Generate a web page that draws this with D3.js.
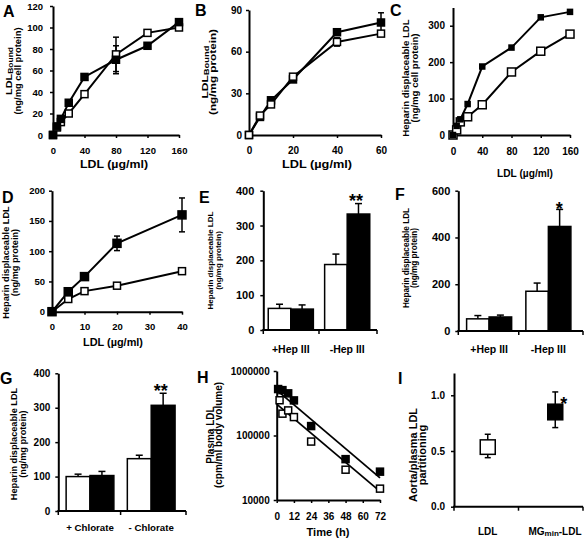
<!DOCTYPE html>
<html><head><meta charset="utf-8">
<script src="https://cdn.jsdelivr.net/npm/d3@7"></script>
<style>
body{margin:0;background:#fff}
text{font-family:Arial,"Liberation Sans",sans-serif;font-weight:bold;fill:#000}
</style>
</head><body>
<svg id="c" width="588" height="539"></svg>
<script>
// ---------- DATA ----------
const A_x = [0,5,10,20,40,80,120,160];
const A_filled = [0,8,15,30,54,70,83,105];
const A_filledErr = [0,0,0,0,0,13,0,0];
const A_open = [0,7,12,20,38,75,95,100];
const A_openErr = [0,0,0,0,0,16,0,0];
const A_xTicks = [0,40,80,120,160];
const A_yTicks = [0,20,40,60,80,100,120];

const B_x = [0,5,10,20,40,60];
const B_filled = [0,13,25,40,74,81];
const B_filledErr = [0,0,0,0,2,7];
const B_open = [0,14,22,42,67,73];
const B_openErr = [0,0,0,0,3,0];
const B_xTicks = [0,20,40,60];
const B_yTicks = [0,30,60,90];

const C_x = [0,5,10,20,40,80,120,160];
const C_filled = [0,25,43,85,188,240,323,338];
const C_open = [0,14,36,50,83,173,230,277];
const C_xTicks = [0,40,80,120,160];
const C_yTicks = [0,100,200,300];

const D_x = [0,5,10,20,40];
const D_filled = [0,33,58,113,160];
const D_filledErr = [0,0,0,12,28];
const D_open = [0,21,34,43,67];
const D_xTicks = [0,10,20,30,40];
const D_yTicks = [0,50,100,150,200];

const E_cats = ["+Hep III","-Hep III"];
const E_open = [62,188];
const E_openErr = [12,30];
const E_filled = [60,333];
const E_filledErr = [12,30];
const E_yTicks = [0,100,200,300,400];

const F_cats = ["+Hep III","-Hep III"];
const F_open = [52,170];
const F_openErr = [14,35];
const F_filled = [60,447];
const F_filledErr = [8,73];
const F_yTicks = [0,200,400,600];

const G_cats = ["+ Chlorate","- Chlorate"];
const G_open = [100,152];
const G_openErr = [7,10];
const G_filled = [103,307];
const G_filledErr = [12,35];
const G_yTicks = [0,100,200,300,400];

const H_tFilled = [1,4,8,12,24,48,72];
const H_filled = [525000,505000,450000,350000,140000,43000,27500];
const H_tOpen = [2,4,8,12,24,48,72];
const H_open = [352000,218000,245000,193000,80500,29500,15000];
const H_fitT = [0,72];
const H_fitFilled = [505000,22000];
const H_fitOpen = [306000,13600];
const H_xTicks = [0,12,24,36,48,60,72];
const H_yTicks = [10000,100000,1000000];

const I_cats = ["LDL","MGmin-LDL"];
const I_low = [0.44,0.71];
const I_q1 = [0.47,0.78];
const I_q3 = [0.60,0.92];
const I_high = [0.65,1.03];
const I_yTicks = [0,0.5,1.0];

// ---------- HELPERS ----------
const svg = d3.select("#c");

function styleAxis(g, fs){
  g.select(".domain").attr("stroke","#000").attr("stroke-width",2);
  g.selectAll(".tick line").attr("stroke","#000").attr("stroke-width",1.5);
  g.selectAll(".tick text").attr("font-size",fs||9.5).attr("font-weight","bold")
    .attr("font-family","Arial, 'Liberation Sans', sans-serif").attr("fill","#000");
}

function letter(t,x,y){
  svg.append("text").attr("x",x).attr("y",y).attr("font-size",16).text(t);
}

function star(s,x,baseline){
  svg.append("text").attr("x",x).attr("y",baseline).attr("text-anchor","middle")
    .attr("font-size",18).text(s);
}

function ytitle(lines, xs, cy, fs, lens){
  lines.forEach((segs,i)=>{
    const t = svg.append("text")
      .attr("transform",`translate(${xs[i]},${cy}) rotate(-90)`)
      .attr("text-anchor","middle").attr("dominant-baseline","central")
      .attr("font-size",fs);
    if(lens && lens[i]) t.attr("textLength",lens[i]).attr("lengthAdjust","spacingAndGlyphs");
    if(typeof segs === "string"){ t.text(segs); return; }
    segs.forEach(s=>{
      const ts = t.append("tspan").text(s.t);
      if(s.sub){ ts.attr("font-size",fs*0.78).attr("dy",2); }
    });
  });
}

function xtitle(s,x,y,len){
  const t = svg.append("text").attr("x",x).attr("y",y).attr("text-anchor","middle")
    .attr("dominant-baseline","central").attr("font-size",10.5).text(s);
  if(len) t.attr("textLength",len).attr("lengthAdjust","spacingAndGlyphs");
}

function linePanel(o){
  const x = d3.scaleLinear().domain(o.xDom).range(o.xR);
  const y = (o.log ? d3.scaleLog() : d3.scaleLinear()).domain(o.yDom).range(o.yR);
  const g = svg.append("g");
  const xa = g.append("g").attr("transform",`translate(0,${o.yR[0]})`)
    .call(d3.axisBottom(x).tickValues(o.xTicks).tickSize(3).tickSizeOuter(0).tickPadding(o.xPad||9)
      .tickFormat(d3.format("d")));
  styleAxis(xa, o.fs);
  const ya = g.append("g").attr("transform",`translate(${o.xR[0]},0)`)
    .call(d3.axisLeft(y).tickValues(o.yTicks).tickSize(3).tickSizeOuter(0).tickPadding(o.yPad||5)
      .tickFormat(o.yFmt || d3.format("d")));
  styleAxis(ya, o.fs);
  (o.fits||[]).forEach(f=>{
    const pts = f.xs.map((v,i)=>[x(v),y(f.ys[i])]);
    g.append("path").attr("d",d3.line()(pts)).attr("fill","none").attr("stroke","#000").attr("stroke-width",1.8);
  });
  o.series.forEach(s=>{
    if(s.connect!==false){
      const pts = s.xs.map((v,i)=>[x(v),y(s.ys[i])]);
      g.append("path").attr("d",d3.line()(pts)).attr("fill","none").attr("stroke","#000").attr("stroke-width",2);
    }
  });
  o.series.forEach(s=>{
    (s.errs||[]).forEach((e,i)=>{
      if(!e) return;
      const cx = x(s.xs[i]), y1 = y(s.ys[i]-e), y2 = y(s.ys[i]+e);
      g.append("line").attr("x1",cx).attr("x2",cx).attr("y1",y1).attr("y2",y2).attr("stroke","#000").attr("stroke-width",1.5);
      [y1,y2].forEach(yy=>g.append("line").attr("x1",cx-3).attr("x2",cx+3).attr("y1",yy).attr("y2",yy).attr("stroke","#000").attr("stroke-width",1.5));
    });
  });
  o.series.forEach(s=>{
    g.selectAll(null).data(s.xs.map((v,i)=>[v,s.ys[i]])).enter().append("rect")
      .attr("x",d=>x(d[0])-s.size/2).attr("y",d=>y(d[1])-s.size/2)
      .attr("width",s.size).attr("height",s.size)
      .attr("fill",s.fill).attr("stroke","#000").attr("stroke-width",1.5);
  });
}

function barPanel(o){
  const x = d3.scaleBand().domain(o.cats).range(o.xR);
  const y = d3.scaleLinear().domain(o.yDom).range(o.yR);
  const g = svg.append("g");
  const bw = x.bandwidth()*o.bwFrac;
  o.cats.forEach((c,i)=>{
    const cx = x(c)+x.bandwidth()/2;
    [[o.open,o.openErr,"#fff",cx-bw],[o.filled,o.filledErr,"#000",cx]].forEach(([vals,errs,fill,bx])=>{
      const v = vals[i], e = errs[i];
      const mx = bx+bw/2;
      g.append("line").attr("x1",mx).attr("x2",mx).attr("y1",y(v)).attr("y2",y(v+e)).attr("stroke","#000").attr("stroke-width",1.5);
      g.append("line").attr("x1",mx-3.5).attr("x2",mx+3.5).attr("y1",y(v+e)).attr("y2",y(v+e)).attr("stroke","#000").attr("stroke-width",1.5);
      g.append("rect").attr("x",bx).attr("y",y(v)).attr("width",bw).attr("height",y(0)-y(v))
        .attr("fill",fill).attr("stroke","#000").attr("stroke-width",1.5);
    });
    g.append("text").attr("x",cx).attr("y",o.catY).attr("text-anchor","middle")
      .attr("dominant-baseline","central").attr("font-size",o.catFs).text(c);
  });
  const ya = g.append("g").attr("transform",`translate(${o.axisX},0)`)
    .call(d3.axisLeft(y).tickValues(o.yTicks).tickSize(3).tickSizeOuter(0).tickPadding(o.yPad).tickFormat(d3.format("d")));
  styleAxis(ya, o.fs);
  g.append("line").attr("x1",o.axisX-1).attr("x2",o.axisEnd).attr("y1",y(0)).attr("y2",y(0)).attr("stroke","#000").attr("stroke-width",2);
  const bticks = [o.axisX, x(o.cats[1]), o.axisEnd];
  bticks.forEach(t=>g.append("line").attr("x1",t).attr("x2",t).attr("y1",y(0)).attr("y2",y(0)+4).attr("stroke","#000").attr("stroke-width",1.5));
}

// ---------- PANEL A ----------
letter("A",3,17);
linePanel({xDom:[0,160], xR:[53,179], yDom:[0,120], yR:[135,6], xTicks:A_xTicks, yTicks:A_yTicks, yPad:7, xPad:9, fs:9.5,
  series:[
    {xs:A_x, ys:A_open, errs:A_openErr, fill:"#fff", size:7},
    {xs:A_x, ys:A_filled, errs:A_filledErr, fill:"#000", size:7}
  ]});
ytitle([[{t:"LDL"},{t:"Bound",sub:true}], "(ng/mg cell protein)"], [8,17], 71, 9.5, [48,87]);
xtitle("LDL (µg/ml)",114,164,68);

// ---------- PANEL B ----------
letter("B",195,16);
linePanel({xDom:[0,60], xR:[249,381], yDom:[0,90], yR:[135,10], xTicks:B_xTicks, yTicks:B_yTicks, yPad:4, xPad:9, fs:10,
  series:[
    {xs:B_x, ys:B_filled, errs:B_filledErr, fill:"#000", size:7},
    {xs:B_x, ys:B_open, errs:B_openErr, fill:"#fff", size:7}
  ]});
ytitle([[{t:"LDL"},{t:"Bound",sub:true}], "(ng/mg protein)"], [204,212], 72, 9.5, [53,86]);
xtitle("LDL (µg/ml)",317,164,70);

// ---------- PANEL C ----------
letter("C",390,16);
linePanel({xDom:[0,160], xR:[453,570], yDom:[0,350], yR:[135,7.5], xTicks:C_xTicks, yTicks:C_yTicks, yPad:5, xPad:10, fs:10,
  series:[
    {xs:C_x, ys:C_open, fill:"#fff", size:8},
    {xs:C_x, ys:C_filled, fill:"#000", size:5}
  ]});
ytitle(["Heparin displaceable LDL", "(ng/mg cell protein)"], [405,414], 78, 9.6);
xtitle("LDL (µg/ml)",525,173,56);

// ---------- PANEL D ----------
letter("D",2,203);
linePanel({xDom:[0,40], xR:[52,182], yDom:[0,200], yR:[311.7,190.7], xTicks:D_xTicks, yTicks:D_yTicks, yPad:4, xPad:9, fs:9.5,
  series:[
    {xs:D_x, ys:D_open, fill:"#fff", size:7},
    {xs:D_x, ys:D_filled, errs:D_filledErr, fill:"#000", size:8}
  ]});
ytitle(["Heparin displaceable LDL", "(ng/mg protein)"], [6,14.5], 262.5, 9.2);
xtitle("LDL (µg/ml)",113,342,60);

// ---------- PANEL E ----------
letter("E",199,203);
barPanel({cats:E_cats, xR:[262.6,375.4], axisX:263.3, axisEnd:377, yDom:[0,400], yR:[330,190.7], yTicks:E_yTicks, yPad:6, fs:11,
  bwFrac:0.4, open:E_open, openErr:E_openErr, filled:E_filled, filledErr:E_filledErr, catY:348.5, catFs:10.5});
star("**",356,207);
ytitle(["Heparin displaceable LDL", "(ng/mg protein)"], [210,218.5], 260.5, 8);

// ---------- PANEL F ----------
letter("F",395,200);
barPanel({cats:F_cats, xR:[459.5,578], axisX:458.3, axisEnd:583, yDom:[0,600], yR:[331,190.7], yTicks:F_yTicks, yPad:5, fs:11,
  bwFrac:0.38, open:F_open, openErr:F_openErr, filled:F_filled, filledErr:F_filledErr, catY:348.7, catFs:10.5});
star("*",559.3,214.5);
ytitle(["Heparin displaceable LDL", "(ng/mg protein)"], [406,414.5], 258, 8.2);

// ---------- PANEL G ----------
letter("G",0,384);
barPanel({cats:G_cats, xR:[59.4,181.8], axisX:58.3, axisEnd:186, yDom:[0,400], yR:[511,373.3], yTicks:G_yTicks, yPad:5, fs:10,
  bwFrac:0.39, open:G_open, openErr:G_openErr, filled:G_filled, filledErr:G_filledErr, catY:527.7, catFs:9.7});
star("**",160.7,396.5);
ytitle(["Heparin displaceable LDL", "(ng/mg protein)"], [14,23], 444, 9.2);

// ---------- PANEL H ----------
letter("H",197,383);
linePanel({log:true, xDom:[0,72], xR:[276.7,380], yDom:[10000,1000000], yR:[500,371], xTicks:H_xTicks, yTicks:H_yTicks,
  yFmt:d3.format("d"), yPad:4, xPad:9.5, fs:10,
  fits:[{xs:H_fitT, ys:H_fitFilled},{xs:H_fitT, ys:H_fitOpen}],
  series:[
    {xs:H_tFilled, ys:H_filled, fill:"#000", size:7, connect:false},
    {xs:H_tOpen, ys:H_open, fill:"#fff", size:7, connect:false}
  ]});
ytitle(["Plasma LDL", "(cpm/ml body volume)"], [210,218.5], 435, 10);
xtitle("Time (h)",328,532,43);

// ---------- PANEL I ----------
letter("I",398,384);
(function(){
  const x = d3.scaleBand().domain(I_cats).range([454,583]);
  const y = d3.scaleLinear().domain([0,1.2]).range([506.7,373]);
  const g = svg.append("g");
  const ya = g.append("g").attr("transform","translate(454,0)")
    .call(d3.axisLeft(y).tickValues(I_yTicks).tickSize(3).tickSizeOuter(0).tickPadding(6).tickFormat(d3.format(".1f")));
  styleAxis(ya, 10);
  g.append("line").attr("x1",453).attr("x2",583).attr("y1",y(0)).attr("y2",y(0)).attr("stroke","#000").attr("stroke-width",2);
  [454, x(I_cats[1]), 583].forEach(t=>g.append("line").attr("x1",t).attr("x2",t).attr("y1",y(0)).attr("y2",y(0)+4).attr("stroke","#000").attr("stroke-width",1.5));
  const centers = [x(I_cats[0])+x.bandwidth()/2+1.5, x(I_cats[1])+x.bandwidth()/2+4.5];
  const bw = 15;
  I_cats.forEach((c,i)=>{
    const cx = centers[i];
    g.append("line").attr("x1",cx).attr("x2",cx).attr("y1",y(I_low[i])).attr("y2",y(I_high[i])).attr("stroke","#000").attr("stroke-width",1.5);
    [I_low[i],I_high[i]].forEach(v=>g.append("line").attr("x1",cx-3).attr("x2",cx+3).attr("y1",y(v)).attr("y2",y(v)).attr("stroke","#000").attr("stroke-width",1.5));
    g.append("rect").attr("x",cx-bw/2).attr("y",y(I_q3[i])).attr("width",bw).attr("height",y(I_q1[i])-y(I_q3[i]))
      .attr("fill",i===0?"#fff":"#000").attr("stroke","#000").attr("stroke-width",1.5);
  });
  g.append("text").attr("x",centers[0]).attr("y",531).attr("text-anchor","middle").attr("dominant-baseline","central").attr("font-size",10).text("LDL");
  const t = g.append("text").attr("x",555).attr("y",531).attr("text-anchor","middle").attr("dominant-baseline","central").attr("font-size",10);
  t.append("tspan").text("MG");
  t.append("tspan").attr("font-size",8).attr("dy",1.5).text("min");
  t.append("tspan").attr("dy",-1.5).text("-LDL");
})();
star("*",563.7,409.5);
ytitle(["Aorta/plasma LDL", "partitioning"], [413,422], 455, 11);
</script>
</body></html>
